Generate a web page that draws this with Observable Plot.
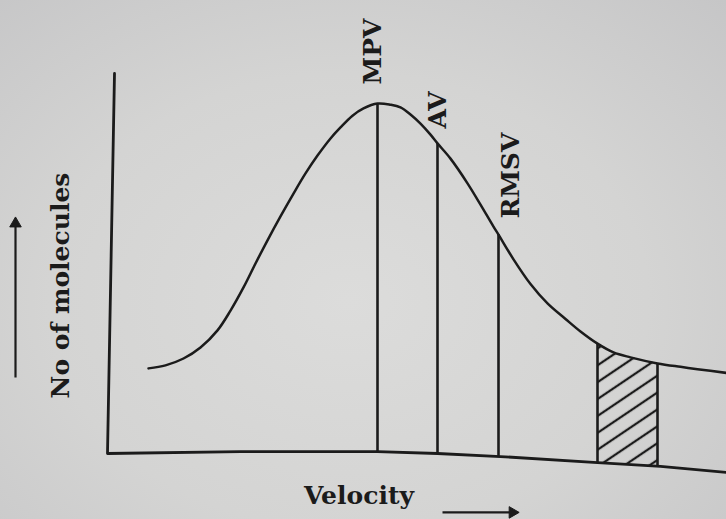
<!DOCTYPE html>
<html>
<head>
<meta charset="utf-8">
<script src="https://cdn.jsdelivr.net/npm/d3@7"></script>
<script src="https://cdn.jsdelivr.net/npm/@observablehq/plot@0.6"></script>
<style>
  html, body { margin: 0; padding: 0; }
  body {
    width: 726px; height: 519px; overflow: hidden;
    background: radial-gradient(ellipse 75% 80% at 48% 58%, #dcdcdb 0%, #d4d4d3 55%, #c6c6c7 100%);
  }
  #chart svg { display: block; }
</style>
</head>
<body>
<div id="chart"></div>
<script>
// Maxwell–Boltzmann distribution of molecular speeds (schematic)
// velocity in arbitrary units, number of molecules on a 0–100 scale
const velocity = [0.70, 1.04, 1.40, 1.74, 2.08, 2.34, 2.60, 2.84, 3.08, 3.34, 3.60, 3.84, 4.08, 4.34,
  4.54, 4.78, 5.00, 5.28, 5.54, 5.74, 5.94, 6.14, 6.34, 6.48, 6.74, 7.08, 7.34, 7.60, 7.70,
  8.00, 8.34, 8.68, 9.04, 9.34, 9.68, 10.00, 10.34, 10.88, 11.34, 11.68, 12.26];
const molecules = [22.4, 23.2, 25.0, 27.9, 32.4, 37.6, 43.7, 50.0, 56.1, 62.4, 68.4, 73.7, 78.4, 82.9,
  85.8, 88.9, 90.8, 92.1, 91.8, 91.1, 89.2, 86.8, 83.9, 81.6, 77.6, 71.1, 65.5, 59.7, 57.6,
  51.1, 44.6, 39.5, 35.4, 32.1, 28.9, 26.6, 25.3, 23.7, 22.8, 22.2, 21.2];

// characteristic speeds: most probable, average, root mean square
const speedNames = ["MPV", "AV", "RMSV"];
const speedValues = [5.28, 6.48, 7.70];

// shaded band of fast molecules
const bandFrom = 9.68;
const bandTo = 10.88;

// axis lines as printed (vertical axis, then the velocity axis)
const axisV = [0.02, -0.12, 2.54, 5.28, 6.48, 7.74, 9.68, 10.94, 12.26];
const axisN = [100, 0, 0.5, 0.5, 0, -0.8, -2.4, -3.4, -5.0];

const yTitle = "No of molecules";
const xTitle = "Velocity";

// ---- derived tables ----
const curve = velocity.map((v, i) => ({v, n: molecules[i]}));
const axisPath = axisV.map((v, i) => ({v, n: axisN[i]}));
const floorPts = axisPath.slice(1);
function floorAt(v) {
  for (let i = 1; i < floorPts.length; i++) {
    const a = floorPts[i - 1], b = floorPts[i];
    if (v <= b.v) return a.n + (b.n - a.n) * (v - a.v) / (b.v - a.v);
  }
  return floorPts[floorPts.length - 1].n;
}
function curveAt(v) {
  const p = curve.find(d => Math.abs(d.v - v) < 1e-9);
  return p ? p.n : NaN;
}
const speeds = speedNames.map((name, i) => ({name, v: speedValues[i], top: curveAt(speedValues[i]), bottom: floorAt(speedValues[i])}));
const band = curve.filter(d => d.v >= bandFrom && d.v <= bandTo).map(d => ({v: d.v, high: d.n, low: floorAt(d.v)}));
const bandEdges = [bandFrom, bandTo].map(v => ({v, top: curveAt(v), bottom: floorAt(v)}));

// direction arrows drawn beside the two axis titles
const pointers = [
  {x1: -1.96, x2: -1.96, y1: 20, y2: 60.5, angle: 0},
  {x1: 6.58, x2: 7.98, y1: -15.5, y2: -15.5, angle: 90}
];

const ink = "#1b1b1b";
const serif = "DejaVu Serif";
const nudge = {MPV: [-5, -19], AV: [0, -15], RMSV: [12, -16]};

const svg = Plot.plot({
  width: 726,
  height: 519,
  marginLeft: 113,
  marginRight: 0,
  marginTop: 73,
  marginBottom: 66,
  x: {domain: [0, 12.26], axis: null},
  y: {domain: [0, 100], axis: null},
  style: {background: "transparent", fontFamily: serif, overflow: "visible"},
  marks: [
    Plot.areaY(band, {x: "v", y1: "low", y2: "high", fill: "url(#hatch)", curve: "catmull-rom"}),
    Plot.line(axisPath, {x: "v", y: "n", stroke: ink, strokeWidth: 2.8}),
    Plot.ruleX(speeds, {x: "v", y1: "bottom", y2: "top", stroke: ink, strokeWidth: 2.6}),
    Plot.ruleX(bandEdges, {x: "v", y1: "bottom", y2: "top", stroke: ink, strokeWidth: 2.6}),
    Plot.line(curve, {x: "v", y: "n", curve: "catmull-rom", stroke: ink, strokeWidth: 2.5}),
    ...speeds.map(s => Plot.text([s], {
      x: "v", y: "top", text: "name", rotate: -90, textAnchor: "start", lineAnchor: "middle",
      dx: nudge[s.name][0], dy: nudge[s.name][1],
      fontSize: 25, fontWeight: "bold", fill: ink
    })),
    Plot.text([yTitle], {
      text: d => d, frameAnchor: "left", rotate: -90, textAnchor: "middle", lineAnchor: "middle",
      dx: -53, dy: 22, fontSize: 25, fontWeight: "bold", fill: ink
    }),
    Plot.text([xTitle], {
      text: d => d, frameAnchor: "bottom", textAnchor: "middle", lineAnchor: "middle",
      dx: -61, dy: 42, fontSize: 25, fontWeight: "bold", fill: ink
    }),
    Plot.link(pointers, {x1: "x1", x2: "x2", y1: "y1", y2: "y2", stroke: ink, strokeWidth: 2.2}),
    Plot.dot(pointers, {x: "x2", y: "y2", symbol: "triangle2", rotate: "angle", r: 5.5, fill: ink, stroke: ink, strokeWidth: 1})
  ]
});

// diagonal hatching used by the shaded band
const defs = d3.select(svg).insert("defs", ":first-child");
const pat = defs.append("pattern")
  .attr("id", "hatch")
  .attr("patternUnits", "userSpaceOnUse")
  .attr("width", 14).attr("height", 14)
  .attr("patternTransform", "rotate(-34)");
pat.append("line")
  .attr("x1", -2).attr("x2", 16).attr("y1", 7).attr("y2", 7)
  .attr("stroke", ink).attr("stroke-width", 2.3);

document.getElementById("chart").appendChild(svg);
</script>
</body>
</html>
